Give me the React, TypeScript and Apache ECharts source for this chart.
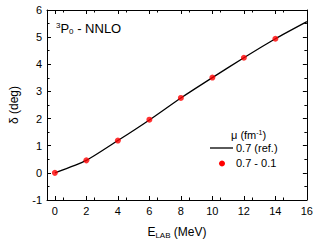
import React, { useEffect, useRef } from "react";
import * as echarts from "echarts";

const energies = [0, 2, 4, 6, 8, 10, 12, 14];
const refLineX = [0, 2, 4, 6, 8, 10, 12, 14, 16];
const refLineY = [0, 0.46, 1.19, 1.95, 2.76, 3.51, 4.24, 4.94, 5.57];
const pointValues = [0, 0.46, 1.19, 1.96, 2.76, 3.51, 4.24, 4.94];
const xTicks = [0, 2, 4, 6, 8, 10, 12, 14, 16];
const legendHeader = "μ (fm{sup|-1})";
const legendLine = "0.7 (ref.)";
const legendDots = "0.7 - 0.1";

const FONT = "Liberation Sans";

export default function App() {
  const ref = useRef<HTMLDivElement>(null);
  useEffect(() => {
    if (!ref.current) return;
    const chart = echarts.init(ref.current, null, { renderer: "svg" });
    const xBase = {
      type: "value",
      min: -0.5,
      max: 16,
      interval: 2,
      axisLine: { show: true, onZero: false, lineStyle: { color: "#000", width: 1 } },
      axisTick: { show: true, inside: true, length: 4, lineStyle: { color: "#000" }, customValues: xTicks },
      minorTick: { show: true, splitNumber: 2, length: 2.5, lineStyle: { color: "#000" } },
      splitLine: { show: false },
      minorSplitLine: { show: false },
    };
    const yBase = {
      type: "value",
      min: -1,
      max: 6,
      interval: 1,
      axisLine: { show: true, onZero: false, lineStyle: { color: "#000", width: 1 } },
      axisTick: { show: true, inside: true, length: 4, lineStyle: { color: "#000" } },
      minorTick: { show: true, splitNumber: 2, length: 2.5, lineStyle: { color: "#000" } },
      splitLine: { show: false },
      minorSplitLine: { show: false },
    };
    chart.setOption({
      animation: false,
      grid: { left: 44, right: 8, top: 10, bottom: 42 },
      xAxis: [
        {
          ...xBase,
          position: "bottom",
          axisLabel: {
            color: "#000",
            fontFamily: FONT,
            fontSize: 11,
            margin: 5,
            customValues: xTicks,
          },
          name: "{n|E}{s|LAB} (MeV)",
          nameLocation: "middle",
          nameGap: 25,
          nameTextStyle: {
            color: "#000",
            fontFamily: FONT,
            fontSize: 12,
            rich: {
              n: { fontFamily: FONT, fontSize: 12, color: "#000" },
              s: { fontFamily: FONT, fontSize: 8, color: "#000", verticalAlign: "bottom", padding: [6, 0, 0, 0] },
            },
          },
        },
        {
          ...xBase,
          position: "top",
          axisLabel: { show: false },
        },
      ],
      yAxis: [
        {
          ...yBase,
          position: "left",
          axisLabel: { color: "#000", fontFamily: FONT, fontSize: 11, margin: 5 },
          name: "δ (deg)",
          nameLocation: "middle",
          nameGap: 27,
          nameTextStyle: { color: "#000", fontFamily: FONT, fontSize: 12 },
        },
        {
          ...yBase,
          position: "right",
          axisLabel: { show: false },
        },
      ],
      series: [
        {
          type: "line",
          data: refLineX.map((x, i) => [x, refLineY[i]]),
          smooth: 0.2,
          showSymbol: false,
          lineStyle: { color: "#000", width: 1.3 },
          z: 2,
        },
        {
          type: "scatter",
          data: energies.map((x, i) => [x, pointValues[i]]),
          symbolSize: 6,
          itemStyle: { color: "#ff0000" },
          z: 3,
        },
      ],
      graphic: [
        {
          type: "text",
          x: 56,
          y: 21,
          style: {
            text: "{sup|3}P{sub|0} - NNLO",
            fontFamily: FONT,
            fontSize: 13,
            fill: "#000",
            rich: {
              sup: { fontSize: 8, fontFamily: FONT, verticalAlign: "top", padding: [0, 0, 6, 0] },
              sub: { fontSize: 8, fontFamily: FONT, verticalAlign: "bottom", padding: [6, 0, 0, 0] },
            },
          },
        },
        {
          type: "text",
          x: 231,
          y: 129,
          style: {
            text: legendHeader,
            fontFamily: FONT,
            fontSize: 11,
            fill: "#000",
            rich: {
              sup: { fontSize: 7, fontFamily: FONT, verticalAlign: "top", padding: [0, 0, 5, 0] },
            },
          },
        },
        {
          type: "line",
          shape: { x1: 210, y1: 148, x2: 233, y2: 148 },
          style: { stroke: "#000", lineWidth: 1.3 },
        },
        {
          type: "text",
          x: 236,
          y: 142,
          style: { text: legendLine, fontFamily: FONT, fontSize: 11, fill: "#000" },
        },
        {
          type: "circle",
          shape: { cx: 222, cy: 163.5, r: 3 },
          style: { fill: "#ff0000" },
        },
        {
          type: "text",
          x: 236,
          y: 157,
          style: { text: legendDots, fontFamily: FONT, fontSize: 11, fill: "#000" },
        },
      ],
    });
    return () => chart.dispose();
  }, []);
  return <div ref={ref} style={{ width: 316, height: 244, position: "absolute", left: 0, top: 0, background: "#fff" }} />;
}
